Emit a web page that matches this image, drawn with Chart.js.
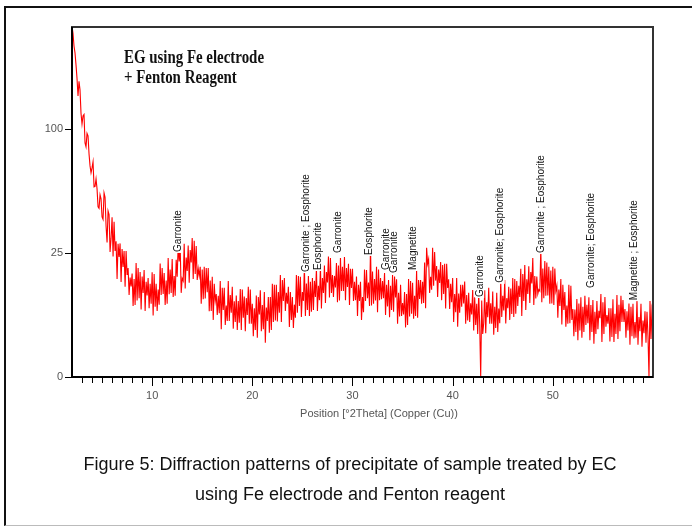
<!DOCTYPE html>
<html>
<head>
<meta charset="utf-8">
<script src="https://cdn.jsdelivr.net/npm/chart.js@4/dist/chart.umd.min.js"></script>
<style>
  html, body { margin: 0; padding: 0; background: #fff; overflow: hidden; }
  #wrap { position: relative; width: 692px; height: 527px; }
  #frame {
    position: absolute; left: 4px; top: 6px; width: 720px; height: 517px;
    border-top: 2px solid #111; border-left: 2px solid #111; border-bottom: 1px solid #bbb;
  }
  #xrd { position: absolute; left: 0; top: 0; }
  #caption {
    position: absolute; left: 0; top: 449px; width: 700px; text-align: center;
    font-family: "Liberation Sans", Arial, sans-serif; font-size: 18px; line-height: 30px; color: #111;
  }
</style>
</head>
<body>
<div id="wrap">
  <div id="frame"></div>
  <canvas id="xrd" width="692" height="527"></canvas>
  <div id="caption">Figure 5: Diffraction patterns of precipitate of sample treated by EC<br>using Fe electrode and Fenton reagent</div>
</div>
<script>
// scan: 2 - 60 °2Theta, counts every 0.1° (one row = 2°)
const ANGLE_START = 2.0;
const ANGLE_STEP = 0.1;
const COUNTS = [
  200, 192, 178, 170.7, 158.3, 144.9, 128.4, 142.0, 133.9, 112.9, 104, 110.8, 112, 89.0, 86.0, 96.4, 94.4, 80.9, 72.4, 67.7,
  71.0, 75.2, 58.7, 59.0, 63.7, 57.5, 47.0, 46.2, 53.9, 51.5, 41.6, 40.3, 55.0, 52.4, 37.1, 29.4, 44.8, 42.9, 25.4, 31.2,
  41.4, 23.6, 39.1, 25.8, 29.9, 15.6, 28.8, 23.4, 29.0, 14.7, 26.6, 19.7, 25.8, 13.2, 25.8, 16.9, 19.3, 10.9, 16.1, 13.3,
  17.4, 8.2, 15.6, 8.4, 21.1, 9.5, 19.3, 10.1, 17.9, 7.4, 16.4, 11.5, 18.6, 7.1, 14.7, 10.8, 15.9, 7.7, 14.1, 8.7,
  17.8, 6.15, 17.2, 8.0, 14.1, 7.1, 12.4, 8.5, 20.9, 10.9, 19.3, 11.2, 17.6, 8.4, 15.1, 8.7, 23.0, 11.1, 18.8, 11.5,
  22.6, 10.4, 16.6, 10.7, 22.3, 16.3, 28.3, 21.7, 27.5, 11.5, 15.8, 15.0, 28.8, 12.7, 23.2, 18.3, 28.1, 14.4, 26.2, 21.3,
  31.4, 15.6, 30.1, 17.2, 27.9, 15.3, 19.1, 16.6, 19.7, 8.7, 18.8, 9.8, 19.7, 10.0, 19.3, 11.7, 19.3, 7.0, 15.1, 7.1,
  16.3, 5.3, 14.1, 9.4, 11.2, 6.25, 10.7, 6.6, 15.0, 3.7, 12.9, 7.3, 12.9, 4.4, 8.3, 5.1, 15.0, 5.1, 10.9, 6.7,
  13.2, 3.8, 9.3, 4.9, 10.8, 3.6, 9.4, 4.8, 12.6, 3.6, 12.4, 5.7, 10.5, 3.4, 10.1, 6.25, 13.2, 4.6, 12.4, 4.6,
  8.7, 2.7, 7.7, 3.6, 10.8, 2.5, 10.4, 6.35, 12.2, 3.4, 8.4, 3.7, 11.7, 1.9, 7.85, 5.1, 10.4, 3.2, 10.4, 3.6,
  14.1, 4.9, 13.8, 5.2, 13.8, 5.0, 11.7, 6.7, 16.9, 4.9, 15.3, 9.4, 15.9, 7.1, 11.5, 8.7, 13.2, 4.07, 11.7, 5.3,
  10.4, 3.9, 8.5, 5.7, 16.9, 6.7, 16.6, 8.2, 16.3, 5.85, 11.7, 9.4, 19.7, 6.05, 14.2, 7.3, 16.6, 6.05, 14.7, 6.9,
  15.9, 7.3, 15.0, 10.4, 19.1, 7.1, 13.5, 9.6, 19.7, 7.6, 15.9, 11.5, 20.2, 8.9, 17.9, 14.5, 23.6, 10.3, 23.0, 11.5,
  16.9, 10.4, 16.6, 13.0, 21.1, 9.1, 20.2, 9.5, 23.0, 12.0, 19.7, 12.0, 23.4, 9.6, 19.3, 13.2, 20.8, 8.4, 19.0, 12.9,
  19.0, 9.4, 14.7, 9.6, 16.4, 6.05, 13.8, 9.4, 14.7, 5.3, 10.4, 6.8, 18.8, 9.4, 18.6, 10.1, 14.5, 8.2, 27.5, 8.3,
  18.1, 8.7, 15.6, 9.5, 19.7, 6.8, 18.8, 9.6, 15.9, 9.8, 15.0, 10.1, 17.6, 6.25, 13.8, 8.1, 15.3, 5.8, 13.5, 7.3,
  16.9, 6.9, 16.4, 10.3, 15.5, 4.6, 11.5, 5.95, 13.8, 6.05, 8.9, 6.35, 11.7, 4.0, 11.2, 4.4, 15.6, 5.95, 15.0, 6.5,
  14.4, 5.5, 10.7, 6.05, 18.3, 5.7, 15.3, 9.9, 15.3, 8.7, 14.7, 8.9, 21.3, 7.7, 27.1, 20.8, 22.6, 11.5, 16.3, 12.4,
  27.1, 13.5, 25.4, 15.1, 20.0, 10.4, 18.8, 14.4, 21.5, 9.6, 20.4, 11.2, 20.8, 7.6, 20.8, 12.9, 15.5, 7.5, 14.1, 9.1,
  15.9, 4.9, 11.2, 6.8, 15.9, 4.1, 11.3, 6.7, 13.8, 8.0, 13.8, 8.8, 14.8, 4.6, 10.9, 5.2, 11.5, 4.9, 8.8, 6.35,
  12.3, 3.5, 10.3, 4.4, 8.7, 3.0, 11.6, 4.4, 0, 9.5, 3.0, 4.7, 12.2, 3.1, 9.1, 5.8, 12.9, 4.6, 8.8, 4.6,
  11.9, 2.9, 8.0, 3.9, 11.5, 3.3, 7.6, 4.7, 15.1, 5.85, 10.7, 7.2, 15.3, 4.65, 10.1, 7.7, 13.2, 5.3, 12.7, 6.45,
  15.9, 5.85, 15.6, 6.5, 15.0, 8.2, 13.5, 10.4, 19.0, 6.05, 17.2, 9.4, 20.4, 7.3, 15.5, 11.2, 19.9, 8.9, 17.9, 14.2,
  23.0, 8.4, 16.6, 10.0, 16.4, 11.2, 12.4, 12.0, 27.1, 9.1, 19.1, 10.1, 21.9, 10.7, 21.3, 10.8, 19.7, 8.7, 18.4, 8.8,
  19.7, 8.4, 19.1, 12.0, 13.5, 5.7, 12.4, 8.2, 15.6, 4.5, 13.8, 7.3, 11.7, 4.1, 8.3, 4.6, 13.8, 4.7, 13.5, 5.3,
  7.5, 2.7, 7.4, 3.3, 9.9, 2.2, 8.8, 3.5, 10.3, 2.5, 8.0, 3.3, 10.7, 4.4, 8.5, 4.7, 10.3, 2.2, 8.4, 3.3,
  9.6, 1.8, 6.9, 3.0, 9.4, 3.7, 7.1, 5.6, 11.2, 2.0, 9.1, 3.0, 10.4, 4.1, 6.25, 4.6, 7.7, 2.05, 7.7, 2.6,
  9.8, 2.0, 6.5, 3.0, 10.9, 2.35, 8.5, 3.4, 10.7, 4.9, 9.6, 4.9, 7.5, 2.5, 7.0, 3.5, 8.8, 1.7, 8.0, 2.7,
  8.7, 2.4, 4.9, 2.5, 9.9, 1.7, 5.85, 3.4, 8.7, 1.5, 5.2, 3.1, 7.0, 1.9, 6.9, 2.7, 0, 9.4, 2.35, 7.7,
  6.5
];

const X_MIN = 2, X_MAX = 60;
const Y_MIN = 0, Y_MAX = 199;
const X_TICK_LABELS = [10, 20, 30, 40, 50];
const Y_TICK_LABELS = [0, 25, 100];
const X_TITLE = 'Position [°2Theta] (Copper (Cu))';
const TITLE_LINES = ['EG using Fe electrode', '+ Fenton Reagent'];

// identified phases: peak position, count at the foot of the label, name
const PHASE_ANGLES = [12.6, 25.3, 26.55, 28.5, 31.6, 33.3, 34.1, 36.0, 42.7, 44.75, 48.8, 53.8, 58.1];
const PHASE_BASES = [25.4, 17.9, 18.6, 25, 24.2, 18.6, 17.6, 18.6, 10.4, 14.4, 25, 12.9, 9.6];
const PHASE_NAMES = [
  'Garronite', 'Garronite ; Eosphorite', 'Eosphorite', 'Garronite', 'Eosphorite', 'Garronite', 'Garronite',
  'Magnetite', 'Garronite', 'Garronite; Eosphorite', 'Garronite ; Eosphorite', 'Garronite; Eosphorite',
  'Magnetite ; Eosphorite'
];

// square-root intensity axis, as in the diffractometer software
class SqrtScale extends Chart.LinearScale {
  getPixelForValue(value) {
    const lo = Math.sqrt(this.min), hi = Math.sqrt(this.max);
    return this.getPixelForDecimal((Math.sqrt(Math.max(value, 0)) - lo) / (hi - lo));
  }
  getValueForPixel(pixel) {
    const lo = Math.sqrt(this.min), hi = Math.sqrt(this.max);
    const s = lo + this.getDecimalForPixel(pixel) * (hi - lo);
    return s * s;
  }
}
SqrtScale.id = 'sqrt';
SqrtScale.defaults = Chart.LinearScale.defaults;
Chart.register(SqrtScale);

const SANS = '"Liberation Sans", Arial, sans-serif';

const decorations = {
  id: 'decorations',
  afterDatasetsDraw(chart) {
    const { ctx, chartArea: a } = chart;
    const xs = chart.scales.x, ys = chart.scales.y;
    ctx.save();

    // phase labels (white box behind each)
    ctx.font = '10px ' + SANS;
    ctx.textBaseline = 'middle';
    PHASE_NAMES.forEach((name, i) => {
      const px = xs.getPixelForValue(PHASE_ANGLES[i]);
      const py = ys.getPixelForValue(PHASE_BASES[i]);
      const w = ctx.measureText(name).width;
      ctx.save();
      ctx.translate(px, py);
      ctx.rotate(-Math.PI / 2);
      ctx.fillStyle = '#fff';
      ctx.fillRect(-1, -4.5, w + 2, 9);
      ctx.fillStyle = '#111';
      ctx.fillText(name, 0, 0.5);
      ctx.restore();
    });

    // plot box
    ctx.strokeStyle = '#333';
    ctx.lineWidth = 2;
    ctx.strokeRect(a.left, a.top, a.right - a.left, a.bottom - a.top);
    ctx.strokeStyle = '#000';
    ctx.beginPath();
    ctx.moveTo(a.left, a.top);
    ctx.lineTo(a.left, a.bottom);
    ctx.lineTo(a.right, a.bottom);
    ctx.stroke();

    // x ticks: every degree, longer at the labelled ones
    ctx.lineWidth = 1;
    ctx.beginPath();
    for (let v = Math.ceil(X_MIN + 0.5); v < X_MAX; v++) {
      const px = Math.round(xs.getPixelForValue(v)) + 0.5;
      const len = X_TICK_LABELS.includes(v) ? 8 : 5;
      ctx.moveTo(px, a.bottom + 1);
      ctx.lineTo(px, a.bottom + 1 + len);
    }
    // y ticks
    Y_TICK_LABELS.forEach(v => {
      const py = Math.round(ys.getPixelForValue(v)) + 0.5;
      ctx.moveTo(a.left - 7, py);
      ctx.lineTo(a.left - 1, py);
    });
    ctx.stroke();

    ctx.fillStyle = '#555';
    ctx.font = '11px ' + SANS;
    ctx.textAlign = 'center';
    ctx.textBaseline = 'middle';
    X_TICK_LABELS.forEach(v => ctx.fillText(String(v), xs.getPixelForValue(v), a.bottom + 19));
    ctx.textAlign = 'right';
    Y_TICK_LABELS.forEach(v => ctx.fillText(String(v), a.left - 9, ys.getPixelForValue(v)));

    ctx.textAlign = 'center';
    ctx.fillText(X_TITLE, 379, a.bottom + 37);

    // sample title, narrow bold serif
    ctx.fillStyle = '#111';
    ctx.font = 'bold 18px "Liberation Serif", "Times New Roman", serif';
    ctx.textAlign = 'left';
    ctx.textBaseline = 'alphabetic';
    const sx = 140 / ctx.measureText(TITLE_LINES[0]).width;
    TITLE_LINES.forEach((line, i) => {
      ctx.save();
      ctx.translate(a.left + 52, a.top + 36 + i * 20);
      ctx.scale(sx, 1);
      ctx.fillText(line, 0, 0);
      ctx.restore();
    });

    ctx.restore();
  }
};

new Chart(document.getElementById('xrd'), {
  type: 'line',
  data: {
    datasets: [{
      data: COUNTS.map((c, i) => ({ x: +(ANGLE_START + i * ANGLE_STEP).toFixed(2), y: c })),
      borderColor: '#ff0000',
      borderWidth: 1.1,
      pointRadius: 0,
      tension: 0,
      fill: false
    }]
  },
  options: {
    responsive: false,
    devicePixelRatio: 1,
    animation: false,
    layout: { padding: { left: 72, top: 27, right: 39, bottom: 150 } },
    plugins: { legend: { display: false }, tooltip: { enabled: false } },
    scales: {
      x: { type: 'linear', min: X_MIN, max: X_MAX, display: false },
      y: { type: 'sqrt', min: Y_MIN, max: Y_MAX, display: false }
    }
  },
  plugins: [decorations]
});
</script>
</body>
</html>
